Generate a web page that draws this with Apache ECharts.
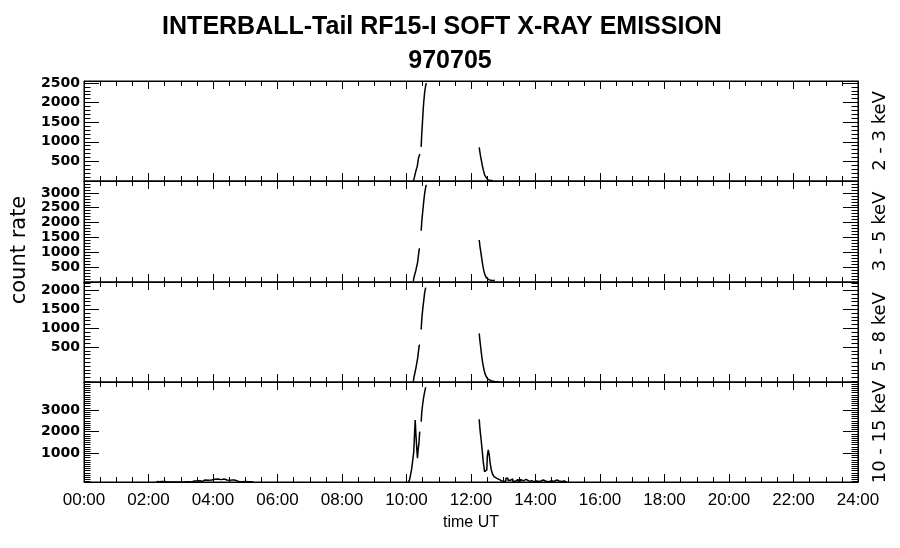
<!DOCTYPE html>
<html>
<head>
<meta charset="utf-8">
<script src="https://cdn.jsdelivr.net/npm/echarts@6/dist/echarts.min.js"></script>
<style>
  html, body { margin: 0; padding: 0; background: #fff; }
  #chart { width: 900px; height: 548px; }
</style>
</head>
<body>
<div id="chart"></div>
<script>
// time in hours UT, null value = gap in the data
var p1Time  = [10.21, 10.26, 10.32, 10.35, 10.40, 10.43, 10.44, 10.45, 10.46, 10.48, 10.50, 10.52, 10.55, 10.58, 10.63, 10.64, 12.25, 12.26, 12.28, 12.31, 12.34, 12.37, 12.40, 12.44, 12.49, 12.54, 12.61, 12.67];
var p1Count = [0, 60, 250, 380, 600, 685, null, null, 870, 1160, 1420, 1720, 2020, 2280, 2480, null, null, 855, 770, 640, 510, 380, 270, 165, 95, 35, 10, 10];

var p2Time  = [10.21, 10.26, 10.32, 10.37, 10.42, 10.43, 10.45, 10.46, 10.49, 10.52, 10.55, 10.58, 10.63, 10.64, 12.25, 12.26, 12.29, 12.32, 12.35, 12.38, 12.41, 12.45, 12.50, 12.55, 12.62, 12.74];
var p2Count = [33, 167, 390, 667, 1113, null, null, 1723, 2057, 2390, 2723, 3000, 3250, null, null, 1413, 1223, 1000, 780, 557, 390, 247, 147, 80, 57, 47];

var p3Time  = [10.21, 10.26, 10.32, 10.37, 10.42, 10.43, 10.45, 10.46, 10.49, 10.52, 10.55, 10.58, 10.61, 10.62, 12.25, 12.26, 12.29, 12.32, 12.35, 12.38, 12.41, 12.45, 12.50, 12.55, 12.62, 12.74, 12.87];
var p3Count = [-413, -281, -60, 202, 552, null, null, 965, 1254, 1517, 1736, 1954, 2070, null, null, 860, 684, 465, 245, 71, -60, -192, -281, -342, -386, -413, -420];

var p4Time  = [2.25, 2.33, 2.41, 2.6, 3.0, 3.24, 3.3, 3.39, 3.45, 3.49, 3.55, 3.60, 3.65, 3.70, 3.75, 3.85, 3.96, 4.01, 4.1, 4.2, 4.32, 4.37, 4.5, 4.6, 4.73, 4.82, 5.0, 5.1, 5.25,
               5.26, 10.05,
               10.06, 10.13, 10.18, 10.21, 10.24, 10.26, 10.28, 10.30, 10.33, 10.35, 10.37, 10.40, 10.42, 10.43, 10.45, 10.46, 10.49, 10.52, 10.55, 10.58, 10.61,
               10.62, 12.25,
               12.26, 12.30, 12.33, 12.36, 12.40, 12.44, 12.49, 12.52, 12.55, 12.58, 12.61, 12.65, 12.69, 12.74, 12.80, 12.90, 13.00,
               13.05, 13.11, 13.18, 13.26, 13.33, 13.42, 13.50, 13.57, 13.62, 13.67, 13.75, 13.88, 13.95, 14.04, 14.12, 14.24, 14.30, 14.35, 14.42, 14.50, 14.58, 14.66, 14.71, 14.76, 14.82, 14.86, 14.92, 14.97];
var p4Count = [-300, -310, -300, -325, -325, -308, -325, -277, -300, -277, -262, -270, -300, -262, -231, -240, -231, -200, -185, -215, -185, -231, -250, -231, -262, -308, -300, -310, -325,
               null, null,
               -325, -230, 230, 692, 1075, 1925, 2538, 1925, 1306, 770, 1154, 1463, 2000, null, null, 2460, 2921, 3308, 3613, 3844, 4047,
               null, null,
               2570, 2077, 1615, 1154, 615, 154, 230, 845, 1154, 923, 540, 230, 32, -78, -155, -230, -309,
               -280, -155, -250, -185, -290, -200, -300, -200, -270, -205, -295, -262, -310, -277, -305, -230, -290, -215, -310, -262, -300, -230, -280, -225, -305, -277, -300, -325];

var bandNames = ['2 - 3 keV', '3 - 5 keV', '5 - 8 keV', '10 - 15 keV'];
var yMin = [0, 0, -420, -325];
var yMax = [2550, 3400, 2220, 4290];
var yLabels = [
  [500, 1000, 1500, 2000, 2500],
  [500, 1000, 1500, 2000, 2500, 3000],
  [500, 1000, 1500, 2000],
  [1000, 2000, 3000]
];
var hourLabels = ['00:00', '02:00', '04:00', '06:00', '08:00', '10:00', '12:00', '14:00', '16:00', '18:00', '20:00', '22:00', '24:00'];

var times  = [p1Time, p2Time, p3Time, p4Time];
var counts = [p1Count, p2Count, p3Count, p4Count];

var gridTop = [81, 181, 282, 382];
var gridH = [100, 101, 100, 100];

function minorValues(lo, hi) {
  var out = [];
  for (var v = Math.ceil(lo / 100) * 100; v <= hi; v += 100) out.push(v);
  return out;
}

var chart = echarts.init(document.getElementById('chart'));

var grids = [], xAxes = [], yAxes = [], series = [], graphics = [];
var black = { color: '#000', width: 1 };

for (var i = 0; i < 4; i++) {
  grids.push({ left: 84, width: 774, top: gridTop[i], height: gridH[i], show: true, borderColor: '#000', borderWidth: 1 });

  ['bottom', 'top'].forEach(function (pos) {
    xAxes.push({
      gridIndex: i, type: 'value', position: pos, min: 0, max: 24, interval: 2,
      axisLine: { show: true, onZero: false, lineStyle: black },
      axisTick: { show: true, inside: true, length: 8, lineStyle: black },
      minorTick: { show: true, splitNumber: 4, length: 5, lineStyle: black },
      splitLine: { show: false },
      axisLabel: {
        show: pos === 'bottom' && i === 3,
        margin: 10,
        color: '#000',
        fontFamily: 'Liberation Sans',
        fontSize: 17,
        formatter: function (v) { return hourLabels[Math.round(v / 2)]; }
      }
    });
  });

  var minors = minorValues(yMin[i], yMax[i]);
  ['left', 'right'].forEach(function (pos) {
    yAxes.push({
      gridIndex: i, type: 'value', position: pos, min: yMin[i], max: yMax[i],
      axisLine: { show: true, onZero: false, lineStyle: black },
      axisTick: { show: true, inside: true, length: 15, lineStyle: black, customValues: yLabels[i] },
      splitLine: { show: false },
      axisLabel: {
        show: pos === 'left',
        customValues: yLabels[i],
        margin: 4,
        color: '#000',
        fontFamily: 'DejaVu Sans',
        fontWeight: 'bold',
        fontSize: 14,
        formatter: function (v) { return String(v); }
      }
    });
    yAxes.push({
      gridIndex: i, type: 'value', position: pos, min: yMin[i], max: yMax[i],
      axisLine: { show: false, onZero: false },
      axisTick: { show: true, inside: true, length: 6.5, lineStyle: black, customValues: minors },
      splitLine: { show: false },
      axisLabel: { show: false, customValues: minors }
    });
  });

  series.push({
    type: 'line',
    xAxisIndex: i * 2,
    yAxisIndex: i * 4,
    data: times[i].map(function (t, k) { return [t, counts[i][k]]; }),
    step: 'middle',
    showSymbol: false,
    connectNulls: false,
    lineStyle: { color: '#000', width: 1.5 },
    itemStyle: { color: '#000' }
  });

  graphics.push({
    type: 'text', x: 880, y: gridTop[i] + gridH[i] / 2, rotation: Math.PI / 2,
    style: { text: bandNames[i], fill: '#000', font: '18px "DejaVu Sans"', textAlign: 'center', textVerticalAlign: 'middle' }
  });
}

graphics.push(
  { type: 'text', x: 442, y: 27, style: { text: 'INTERBALL-Tail RF15-I SOFT X-RAY EMISSION', fill: '#000', font: 'bold 25px "Liberation Sans"', textAlign: 'center', textVerticalAlign: 'middle' } },
  { type: 'text', x: 450, y: 61, style: { text: '970705', fill: '#000', font: 'bold 25px "Liberation Sans"', textAlign: 'center', textVerticalAlign: 'middle' } },
  { type: 'text', x: 20, y: 250, rotation: Math.PI / 2, style: { text: 'count rate', fill: '#000', font: '21px "DejaVu Sans"', textAlign: 'center', textVerticalAlign: 'middle' } },
  { type: 'text', x: 471, y: 523, style: { text: 'time UT', fill: '#000', font: '16px "Liberation Sans"', textAlign: 'center', textVerticalAlign: 'middle' } }
);

chart.setOption({
  animation: false,
  backgroundColor: '#fff',
  grid: grids,
  xAxis: xAxes,
  yAxis: yAxes,
  series: series,
  graphic: graphics
});
</script>
</body>
</html>
